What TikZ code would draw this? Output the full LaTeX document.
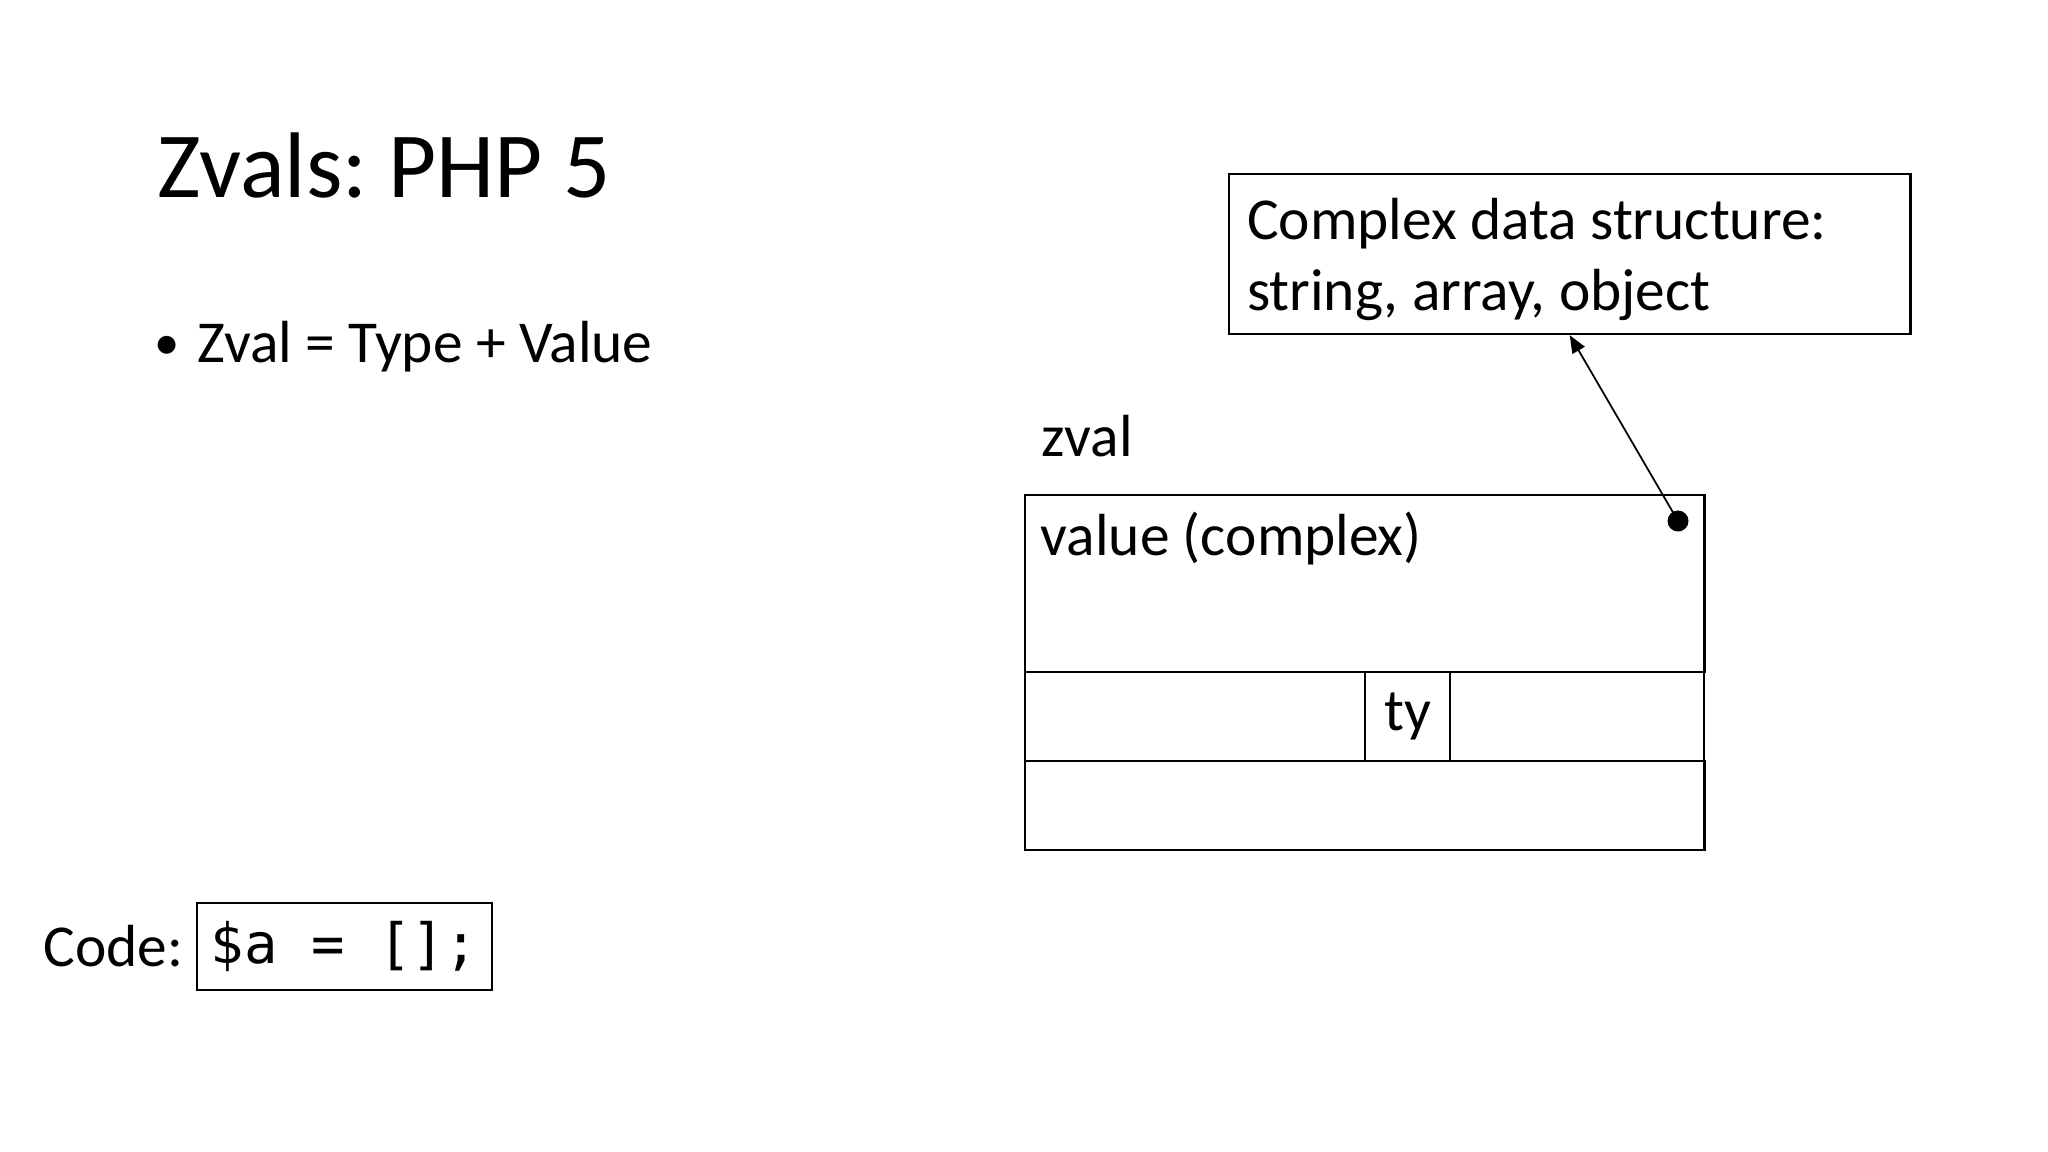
\documentclass[tikz,border=0pt]{standalone}
\usepackage{fontspec}
\setmainfont{Carlito}
\newfontfamily\codefont{DejaVu Sans Mono}
\usetikzlibrary{arrows.meta}

\begin{document}
\frenchspacing
\begin{tikzpicture}[x=0.01cm,y=-0.01cm,font=\fontsize{16.9}{20.2}\selectfont]
    \tikzstyle{txt}=[anchor=base west,inner sep=0pt]
    \tikzstyle{cell}=[rectangle,draw=black,line width=0.6pt,anchor=north west,inner sep=0pt]
    \useasboundingbox (0,0) rectangle (2048,1152);

    % heading and bullet
    \node[txt,font=\fontsize{26.5}{32}\selectfont] (title) at (157,198) {Zvals: PHP 5};
    \node[anchor=base,inner sep=0pt,font=\fontsize{14.4}{16}\selectfont] (bullet) at (167,360) {•};
    \node[txt] (point) at (197,363) {Zval = Type + Value};

    % target of the pointer
    \node[cell,minimum width=6.81cm,minimum height=1.60cm,text width=6.45cm,
          inner xsep=0.17cm,align=flush left] (cds) at (1228,173)
          {\rule{0pt}{15pt}Complex data structure:\\string, array, object};

    % the zval itself
    \node[txt] (zlabel) at (1041,457) {zval};
    \node[cell,minimum width=6.79cm,minimum height=1.77cm] (value) at (1024,494) {};
    \node[txt] (valtext) at (1040,556) {value (complex)};
    \node[cell,minimum width=3.40cm,minimum height=0.89cm] (left) at (1024,671) {};
    \node[cell,minimum width=0.85cm,minimum height=0.89cm] (ty) at (1364,671) {ty\hspace{6.5pt}};
    \node[cell,minimum width=2.54cm,minimum height=0.89cm] (right) at (1449,671) {};
    \node[cell,minimum width=6.79cm,minimum height=0.89cm] (refc) at (1024,760) {};

    \node[circle,fill=black,minimum size=0.21cm,inner sep=0pt] (ptr) at (1678,521) {};
    \draw[-{Triangle[length=5pt,width=4pt]},line width=0.5pt] (ptr.center) -- (cds.south);

    % code
    \node[txt] (codelabel) at (43,966) {Code:};
    \node[cell,minimum width=2.95cm,minimum height=0.87cm,
          font=\codefont\fontsize{15.8}{19}\selectfont] (code) at (196,902) {\$a = [];\hspace{2pt}};
\end{tikzpicture}
\end{document}
